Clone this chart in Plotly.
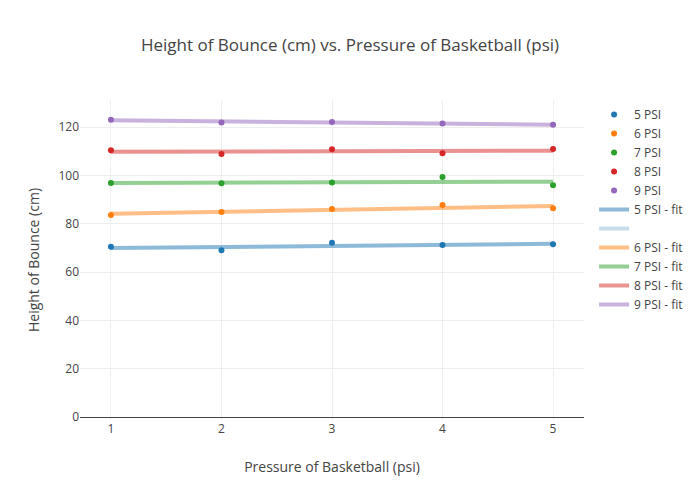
import plotly.graph_objects as go

pressure = [1, 2, 3, 4, 5]
series_names = ["5 PSI", "6 PSI", "7 PSI", "8 PSI", "9 PSI"]
heights = {
    "5 PSI": [70.5, 69.0, 72.1, 71.2, 71.5],
    "6 PSI": [83.6, 84.8, 86.1, 87.7, 86.4],
    "7 PSI": [96.8, 96.7, 97.1, 99.3, 95.9],
    "8 PSI": [110.4, 108.9, 110.8, 109.2, 110.9],
    "9 PSI": [123.0, 121.9, 122.1, 121.5, 121.0],
}
# fitted line end values (x=1 and x=5)
fit_x = [1, 5]
fits = {
    "5 PSI": [69.9, 71.7],
    "6 PSI": [84.1, 87.3],
    "7 PSI": [96.9, 97.4],
    "8 PSI": [109.8, 110.2],
    "9 PSI": [122.8, 121.0],
}
colors = ["#1f77b4", "#ff7f0e", "#2ca02c", "#d62728", "#9467bd"]

fig = go.Figure()

fit_rank = 100
for i, name in enumerate(series_names):
    fig.add_trace(go.Scatter(
        x=fit_x, y=fits[name], mode="lines", name=name + " - fit",
        line=dict(color=colors[i], width=4), opacity=0.5,
        legendrank=fit_rank, hoverinfo="skip"))
    fit_rank += 2
    if i == 0:
        fig.add_trace(go.Scatter(
            x=[None], y=[None], mode="lines", name="",
            line=dict(color=colors[0], width=4), opacity=0.25,
            legendrank=101, hoverinfo="skip"))

for i, name in enumerate(series_names):
    fig.add_trace(go.Scatter(
        x=pressure, y=heights[name], mode="markers", name=name,
        marker=dict(color=colors[i], size=6), legendrank=i + 1))

fig.update_layout(
    width=700, height=500,
    margin=dict(l=80, r=116, t=100, b=80),
    paper_bgcolor="white", plot_bgcolor="white",
    font=dict(family="Open Sans, sans-serif", size=12, color="#444"),
    title=dict(text="Height of Bounce (cm) vs. Pressure of Basketball (psi)",
               x=0.5, xanchor="center", y=0.91, yanchor="middle", yref="container",
               font=dict(size=17, color="#444")),
    xaxis=dict(title=dict(text="Pressure of Basketball (psi)", font=dict(size=14), standoff=26),
               range=[0.72, 5.28], tickvals=pressure, gridcolor="#eee",
               zeroline=False, showline=False, ticks=""),
    yaxis=dict(title=dict(text="Height of Bounce (cm)", font=dict(size=14)),
               range=[-1.24, 131.2], dtick=20, gridcolor="#eee",
               zeroline=True, zerolinecolor="#444", zerolinewidth=1, ticks=""),
    legend=dict(font=dict(size=12), tracegroupgap=0, traceorder="normal"),
    showlegend=True,
)

fig.write_html("out.html")
